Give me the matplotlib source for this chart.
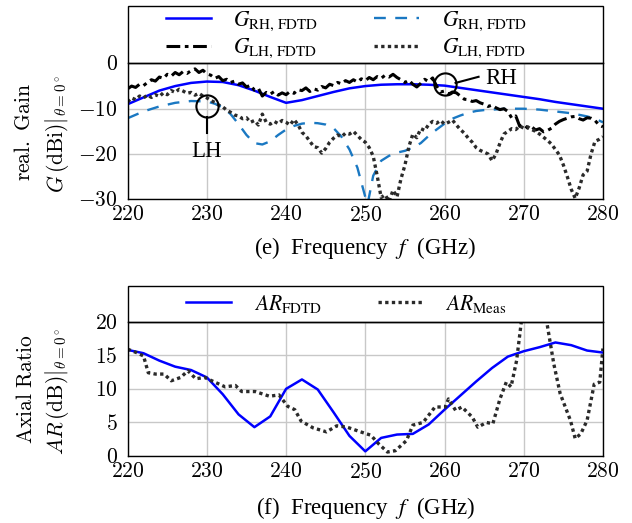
import numpy as np
import matplotlib
matplotlib.use("Agg")
import matplotlib.pyplot as plt
from matplotlib.patches import Rectangle

plt.rcParams['font.family'] = ['Liberation Serif', 'DejaVu Serif']
plt.rcParams['mathtext.fontset'] = 'stix'

#############################
### DATA
#############################
# simulated gain, RH (every 2 GHz)
f_sim = np.arange(220, 281, 2)
g_rh_fdtd = [-9.0, -7.5, -6.0, -5.0, -4.3, -4.0, -4.1, -4.8, -6.0, -7.4,
             -8.7, -8.1, -7.2, -6.3, -5.5, -5.0, -4.7, -4.6, -4.6, -4.7,
             -4.9, -5.4, -5.9, -6.4, -6.9, -7.4, -7.9, -8.5, -9.0, -9.5, -10.0]

# measured gain, RH
f_rh_meas = [220, 222, 224, 226, 228, 230, 231, 232, 233, 234, 235, 236, 237,
             238, 239, 240, 241, 242, 243, 244, 245, 246, 247, 248, 249, 250,
             250.3, 251, 252, 253, 254, 255, 256, 257, 258, 259, 260, 261, 262,
             263, 264, 265, 266, 268, 270, 272, 274, 276, 278, 279, 280]
g_rh_meas = [-12.1, -10.6, -9.5, -8.7, -8.3, -8.4, -8.9, -9.7, -11.2, -13.4,
             -15.8, -17.6, -17.9, -17.2, -15.8, -14.6, -13.8, -13.3, -13.1,
             -13.2, -13.5, -14.3, -16.2, -19.0, -23.0, -29.5, -31.0, -24.8,
             -21.5, -20.4, -19.7, -19.3, -18.6, -17.6, -16.0, -14.6, -13.3,
             -12.2, -11.5, -10.9, -10.5, -10.3, -10.2, -10.0, -10.0, -10.2,
             -10.6, -11.0, -11.7, -12.2, -13.0]

# LH gain, sampled every 0.5 GHz
f_lh = np.arange(220, 280.01, 0.5)
g_lh_fdtd = [-5.6, -5.0, -5.3, -4.6, -4.9, -4.2, -3.6, -3.9, -3.0, -3.3,
             -2.4, -2.8, -2.0, -2.5, -1.8, -2.2, -1.6, -1.2, -2.0, -1.5,
             -2.3, -2.6, -3.3, -2.9, -3.8, -3.5, -4.2, -3.9, -4.6, -4.3,
             -5.2, -4.8, -5.9, -5.5, -7.2, -6.4, -6.8, -6.2, -7.0, -6.5,
             -6.9, -6.2, -6.6, -5.8, -6.0, -5.4, -6.2, -5.6, -5.9, -5.1,
             -5.4, -4.6, -4.9, -4.2, -4.5, -3.8, -4.2, -3.6, -4.1, -3.4,
             -3.8, -3.1, -3.6, -2.9, -3.3, -2.6, -3.0, -2.4, -3.1, -3.6,
             -4.2, -3.7, -4.6, -5.2, -4.4, -3.5, -4.0, -3.2, -5.0, -6.3,
             -6.1, -6.8, -6.3, -6.5, -7.2, -7.9, -8.0, -8.4, -8.2, -8.7,
             -9.0, -9.5, -9.2, -9.8, -10.2, -10.0, -10.6, -12.1, -11.6, -13.9,
             -13.5, -14.3, -14.0, -14.7, -14.4, -15.1, -14.8, -14.3, -13.4, -12.8,
             -12.4, -12.1, -11.8, -11.7, -12.2, -12.5, -12.0, -12.1, -12.6, -13.6,
             -14.0]
g_lh_meas = [-8.5, -7.6, -8.0, -7.2, -7.6, -7.0, -7.5, -6.9, -7.3, -6.5,
             -6.9, -6.0, -6.4, -5.7, -6.1, -6.6, -6.4, -7.0, -6.6, -7.2,
             -7.6, -8.2, -8.6, -9.2, -9.6, -10.3, -10.8, -11.4, -11.6, -12.2,
             -12.0, -13.0, -12.6, -13.6, -11.2, -13.0, -13.4, -12.8, -13.3, -12.6,
             -13.0, -13.6, -12.4, -13.5, -15.2, -16.0, -17.2, -18.4, -18.6, -19.8,
             -18.8, -17.4, -16.5, -15.8, -16.2, -15.4, -15.6, -15.0, -15.9, -16.8,
             -17.4, -18.6, -20.5, -24.8, -29.6, -29.0, -30.5, -28.0, -29.5, -25.5,
             -22.5, -18.4, -15.6, -16.4, -14.4, -14.8, -13.5, -12.8, -13.2, -12.6,
             -13.4, -13.0, -12.5, -13.6, -14.6, -15.4, -16.5, -17.4, -18.6, -19.2,
             -19.6, -20.0, -21.5, -20.0, -17.6, -15.6, -15.0, -14.4, -14.6, -13.8,
             -14.3, -14.0, -14.6, -15.0, -15.6, -16.3, -17.0, -17.8, -19.0, -20.2,
             -22.4, -25.0, -27.8, -29.8, -27.5, -24.6, -23.8, -20.0, -17.2, -16.8,
             -16.2]

# axial ratio
ar_fdtd = [15.8, 15.3, 14.2, 13.3, 12.8, 11.7, 9.2, 6.2, 4.3, 5.9,
           10.0, 11.4, 9.9, 6.5, 3.0, 0.7, 2.7, 3.2, 3.3, 4.7,
           6.9, 9.0, 11.1, 13.1, 14.8, 15.6, 16.2, 16.9, 16.5, 15.7, 15.4]
f_ar_meas = [220, 221.1, 222, 222.6, 223.5, 224.6, 225.5, 226.7, 227.6, 228.6,
             229.7, 231, 232.3, 233.6, 234.4, 236.1, 237.9, 239.1, 240.2, 241.1,
             241.9, 243.4, 245.1, 246.4, 247.7, 249.4, 250.7, 251.7, 252.8, 253.8,
             255.2, 256, 257.3, 258.8, 260.1, 260.5, 261.4, 262.2, 263.5, 264.2,
             265.3, 266.1, 267, 267.8, 268.4, 269.1, 269.7, 270.5, 272, 272.9,
             273.8, 274.6, 275.9, 276.5, 277.2, 278, 278.9, 279.6, 280]
ar_meas = [15.9, 15.4, 14.9, 12.4, 12.2, 12.2, 11.2, 11.7, 12.7, 11.5,
           11.7, 11.0, 10.3, 10.5, 9.6, 9.6, 8.9, 9.1, 7.4, 6.9,
           5.2, 4.2, 3.6, 4.5, 4.3, 3.6, 3.1, 1.8, 0.6, 0.8,
           2.3, 4.6, 5.0, 7.3, 7.3, 8.5, 6.8, 7.3, 5.8, 4.3,
           5.0, 4.8, 8.5, 11.0, 10.3, 14.2, 20.0, 27.0, 27.0, 20.0,
           13.7, 9.3, 5.3, 2.6, 3.3, 5.3, 10.7, 11.0, 16.0]

xticks = [220, 230, 240, 250, 260, 270, 280]
yticks_gain = [-30, -20, -10, 0]
yticks_ar = [0, 5, 10, 15, 20]

#############################
### STYLE
#############################
cBlue = '#0000ff'
cLight = '#1a78c2'
cDark = '#2a2a2a'
tickFont = 15.5
labelFont = 15.5
legFont = 15.5
dashdot = (0, (4.5, 1.5, 1.2, 1.5))
dotted = (0, (1, 1))

fig = plt.figure(figsize=(6.32, 5.23), dpi=100)
ax1 = fig.add_axes([0.202, 0.619, 0.752, 0.2597])
ax2 = fig.add_axes([0.202, 0.128, 0.752, 0.257])

# --- Gain plot
l1, = ax1.plot(f_sim, g_rh_fdtd, color=cBlue, lw=1.8)
l2, = ax1.plot(f_rh_meas, g_rh_meas, color=cLight, lw=1.7, linestyle=(0, (5, 4)))
l3, = ax1.plot(f_lh, g_lh_fdtd, color='black', lw=2.2, linestyle=dashdot)
l4, = ax1.plot(f_lh, g_lh_meas, color=cDark, lw=2.4, linestyle=dotted)

# annotations LH / RH
ax1.plot([230], [-9.5], 'o', ms=16, mfc='none', mec='black', mew=1.5, zorder=5)
ax1.plot([230, 230], [-11.9, -15.3], color='black', lw=1.5, zorder=5)
ax1.text(230, -19.4, 'LH', ha='center', va='center', fontsize=16.5)
ax1.plot([260], [-4.6], 'o', ms=16, mfc='none', mec='black', mew=1.5, zorder=5)
ax1.plot([261.4, 264.3], [-4.3, -2.95], color='black', lw=1.5, zorder=5)
ax1.text(265.2, -3.3, 'RH', ha='left', va='center', fontsize=16.5)

ax1.set_xlim(220, 280)
ax1.set_ylim(-30, 0)

# --- Axial ratio plot
m1, = ax2.plot(f_sim, ar_fdtd, color=cBlue, lw=1.8)
m2, = ax2.plot(f_ar_meas, ar_meas, color=cDark, lw=2.4, linestyle=dotted)
ax2.set_xlim(220, 280)
ax2.set_ylim(0, 20)

for ax, yt in ((ax1, yticks_gain), (ax2, yticks_ar)):
    ax.set_xticks(xticks)
    ax.set_xticklabels(['$%d$' % v for v in xticks], math_fontfamily='cm',
                       fontsize=tickFont)
    ax.set_yticks(yt)
    ax.set_yticklabels(['$%d$' % v for v in yt], math_fontfamily='cm',
                       fontsize=tickFont)
    ax.tick_params(axis='both', length=0)
    ax.tick_params(axis='x', pad=5)
    ax.tick_params(axis='y', pad=7)
    ax.grid(color='#c8c8c8', linestyle='-', linewidth=1)
    ax.set_axisbelow(True)
    for sp in ax.spines.values():
        sp.set_linewidth(1.0)

# --- Legends (boxes sit on top of the axes)
h1 = 0.423
ax1.add_patch(Rectangle((0, 1), 1, h1, transform=ax1.transAxes, fill=False,
                        ec='black', lw=1.0, clip_on=False))
ax1.legend([l1, l3, l2, l4],
           [r'$G_{\mathrm{RH,\,FDTD}}$', r'$G_{\mathrm{LH,\,FDTD}}$',
            r'$G_{\mathrm{RH,\,FDTD}}$', r'$G_{\mathrm{LH,\,FDTD}}$'],
           loc='center', bbox_to_anchor=(0.46, 1 + h1 / 2), ncol=2,
           frameon=False, fontsize=legFont, handlelength=2.1,
           handletextpad=1.05, columnspacing=2.6, labelspacing=0.2,
           borderaxespad=0)

h2 = 0.264
ax2.add_patch(Rectangle((0, 1), 1, h2, transform=ax2.transAxes, fill=False,
                        ec='black', lw=1.0, clip_on=False))
ax2.legend([m1, m2], [r'$AR_{\mathrm{FDTD}}$', r'$AR_{\mathrm{Meas}}$'],
           loc='center', bbox_to_anchor=(0.46, 1 + h2 / 2), ncol=2,
           frameon=False, fontsize=legFont, handlelength=2.1,
           handletextpad=1.05, columnspacing=2.6, borderaxespad=0)

# --- Axis labels
W, H = 632.0, 523.0
fig.text(25 / W, 1 - 132 / H, r'$\mathrm{real.\ Gain}$', rotation=90,
         ha='center', va='center', fontsize=labelFont, math_fontfamily='cm')
fig.text(57 / W, 1 - 134 / H, r'$\left.G\,(\mathrm{dBi})\right|_{\theta=0^\circ}$',
         rotation=90, ha='center', va='center', fontsize=labelFont,
         math_fontfamily='cm')
fig.text(27 / W, 1 - 389 / H, r'$\mathrm{Axial\ Ratio}$', rotation=90,
         ha='center', va='center', fontsize=labelFont, math_fontfamily='cm')
fig.text(57 / W, 1 - 391 / H, r'$\left.AR\,(\mathrm{dB})\right|_{\theta=0^\circ}$',
         rotation=90, ha='center', va='center', fontsize=labelFont,
         math_fontfamily='cm')

xc = 0.202 + 0.752 / 2
fig.text(xc, 1 - 248 / H, '(e)  Frequency  $f$  (GHz)', ha='center', va='center',
         fontsize=16.5)
fig.text(xc, 1 - 508 / H, '(f)  Frequency  $f$  (GHz)', ha='center', va='center',
         fontsize=16.5)

plt.savefig('out.png', dpi=100)
